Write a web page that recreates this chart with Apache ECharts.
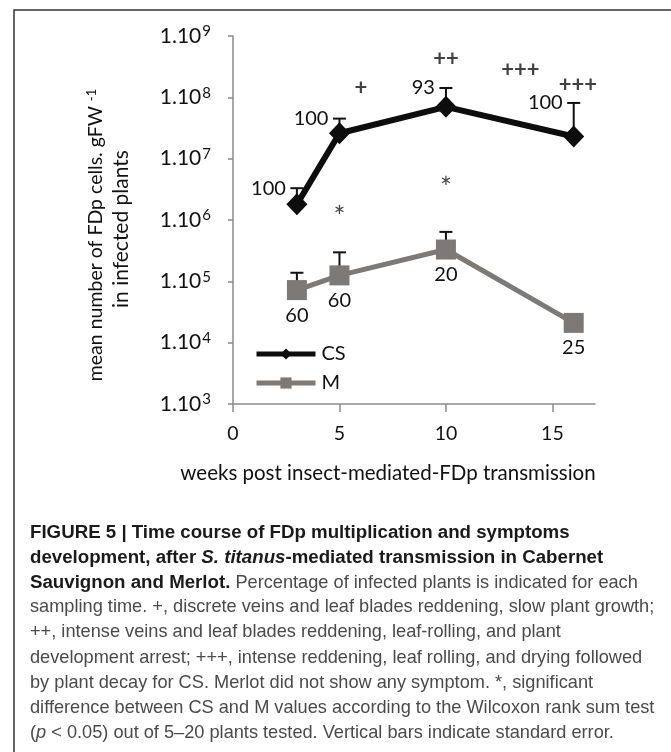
<!DOCTYPE html>
<html>
<head>
<meta charset="utf-8">
<script src="https://cdn.jsdelivr.net/npm/echarts@6/dist/echarts.min.js"></script>
<style>
  html, body { margin: 0; padding: 0; background: #ffffff; }
  #chart { width: 671px; height: 752px; }
</style>
</head>
<body>
<div id="chart"></div>
<script>
// Sampling times (weeks after transmission)
const weeks = [3, 5, 10, 16];

// Cabernet Sauvignon (CS): mean FDp cells per g fresh weight and upper end of SE bar
const csMean = [1.8e6, 2.6e7, 7.0e7, 2.3e7];
const csUpper = [3.3e6, 4.5e7, 1.42e8, 8.1e7];
const csInfected = ['100', '100', '93', '100'];

// Merlot (M)
const mMean = [7.2e4, 1.25e5, 3.3e5, 2.1e4];
const mUpper = [1.38e5, 2.97e5, 6.4e5, null];
const mInfected = ['60', '60', '20', '25'];

// Symptom scores for CS and significance stars (week, level, mark)
const symptomWeeks = [6, 10, 13.5, 16.2];
const symptomLevels = [1.4e8, 4.2e8, 2.8e8, 1.6e8];
const symptomMarks = ['+', '++', '+++', '+++'];
const starWeeks = [5, 10];
const starLevels = [1.08e6, 3.2e6];

// Axis ticks
const xTicks = [0, 5, 10, 15];
const yMin = 1e3, yMax = 1e9;

// Caption lines
const captionLines = [
  '{b|FIGURE 5 | Time course of FDp multiplication and symptoms}',
  '{b|development, after }{bi|S. titanus}{b|-mediated transmission in Cabernet}',
  '{b|Sauvignon and Merlot.}{r| Percentage of infected plants is indicated for each}',
  '{r|sampling time. +, discrete veins and leaf blades reddening, slow plant growth;}',
  '{r|++, intense veins and leaf blades reddening, leaf-rolling, and plant}',
  '{r|development arrest; +++, intense reddening, leaf rolling, and drying followed}',
  '{r|by plant decay for CS. Merlot did not show any symptom. *, significant}',
  '{r|difference between CS and M values according to the Wilcoxon rank sum test}',
  '{r|(}{ri|p}{r| < 0.05) out of 5–20 plants tested. Vertical bars indicate standard error.}'
];

const FONT = 'Lato, "Open Sans", sans-serif';
const CAP_FONT = '"Liberation Sans Narrow", "Liberation Sans", Arial, sans-serif';

function errData(means, uppers) {
  return weeks.map((w, i) => [w, means[i], uppers[i]]);
}

function errorBarRenderer(color, labels) {
  return function (params, api) {
    const upper = api.value(2);
    if (upper == null || isNaN(upper)) return null;
    const base = api.coord([api.value(0), api.value(1)]);
    const top = api.coord([api.value(0), upper]);
    const children = [
      { type: 'line', shape: { x1: base[0], y1: base[1], x2: top[0], y2: top[1] },
        style: { stroke: color, lineWidth: 2 } },
      { type: 'line', shape: { x1: top[0] - 6.5, y1: top[1], x2: top[0] + 6.5, y2: top[1] },
        style: { stroke: color, lineWidth: 2 } }
    ];
    if (labels) {
      children.push({
        type: 'text', x: top[0] - 11, y: top[1],
        style: { text: labels[params.dataIndex], fill: '#111', font: '20px ' + FONT,
                 textAlign: 'right', textVerticalAlign: 'middle' }
      });
    }
    return { type: 'group', children };
  };
}

const chart = echarts.init(document.getElementById('chart'), null, { renderer: 'canvas' });

const captionGraphics = captionLines.map((line, i) => ({
  type: 'text', left: 30, top: 523 + i * 25.1, z: 10,
  style: {
    text: line,
    font: '18px ' + CAP_FONT,
    rich: {
      b: { fontFamily: CAP_FONT, fontSize: 18.7, fontWeight: 'bold', fill: '#1a1a1a' },
      bi: { fontFamily: CAP_FONT, fontSize: 18.7, fontWeight: 'bold', fontStyle: 'italic', fill: '#1a1a1a' },
      r: { fontFamily: CAP_FONT, fontSize: 18.2, fill: '#4a4a4a' },
      ri: { fontFamily: CAP_FONT, fontSize: 18.2, fontStyle: 'italic', fill: '#4a4a4a' }
    }
  }
}));

const option = {
  animation: false,
  backgroundColor: '#ffffff',
  grid: { left: 233, top: 36, width: 362, height: 368, containLabel: false },
  xAxis: {
    type: 'value', min: 0, max: 17, interval: 5,
    axisLine: { lineStyle: { color: '#8a8a8a', width: 1.5 } },
    axisTick: { show: true, length: 8, lineStyle: { color: '#8a8a8a', width: 1.5 }, customValues: xTicks },
    axisLabel: { color: '#111', fontSize: 19.5, fontFamily: FONT, margin: 20, customValues: xTicks },
    splitLine: { show: false }
  },
  yAxis: {
    type: 'log', logBase: 10, min: yMin, max: yMax,
    axisLine: { show: true, lineStyle: { color: '#8a8a8a', width: 1.5 } },
    axisTick: { show: true, length: 5, lineStyle: { color: '#8a8a8a', width: 1.5 } },
    axisLabel: {
      margin: 22, color: '#111', fontSize: 21, fontFamily: FONT,
      formatter: v => '{n|1.10}{s|' + Math.round(Math.log10(v)) + '}',
      rich: {
        n: { fontSize: 21, fontFamily: FONT, color: '#111' },
        s: { fontSize: 15, fontFamily: FONT, color: '#111', verticalAlign: 'top', padding: [0, 0, 9, 1] }
      }
    },
    splitLine: { show: false }
  },
  legend: {
    orient: 'vertical', left: 249, top: 339, itemGap: 9,
    itemWidth: 59, itemHeight: 14,
    textStyle: { fontSize: 20, fontFamily: FONT, color: '#111', padding: [0, 0, 0, 1] },
    data: [
      { name: 'CS', lineStyle: { width: 5 } },
      { name: 'M', lineStyle: { width: 5 } }
    ]
  },
  graphic: [
    { type: 'rect', shape: { x: 14, y: 10, width: 700, height: 800 },
      style: { fill: 'none', stroke: '#333', lineWidth: 1.5 }, z: -1 },
    { type: 'text', x: 96, y: 235, rotation: Math.PI / 2,
      style: { text: '{a|mean number of FDp cells. gFW }{s|-1}', textAlign: 'center', textVerticalAlign: 'middle',
        rich: { a: { fontSize: 19.5, fontFamily: FONT, fill: '#111' },
                s: { fontSize: 13, fontFamily: FONT, fill: '#111', verticalAlign: 'top', padding: [0, 0, 8, 0] } } } },
    { type: 'text', x: 121, y: 229, rotation: Math.PI / 2,
      style: { text: 'in infected plants', font: '21px ' + FONT, fill: '#111',
        textAlign: 'center', textVerticalAlign: 'middle' } },
    { type: 'text', x: 388, y: 473,
      style: { text: 'weeks post insect-mediated-FDp transmission', font: '20.5px ' + FONT, fill: '#111',
        textAlign: 'center', textVerticalAlign: 'middle' } },
    ...captionGraphics
  ],
  series: [
    {
      name: 'CS errors', type: 'custom', z: 1,
      renderItem: errorBarRenderer('#111', csInfected),
      data: errData(csMean, csUpper), encode: { x: 0, y: 1 }
    },
    {
      name: 'M errors', type: 'custom', z: 1,
      renderItem: errorBarRenderer('#111', null),
      data: errData(mMean, mUpper), encode: { x: 0, y: 1 }
    },
    {
      name: 'CS', type: 'line', z: 3,
      data: weeks.map((w, i) => [w, csMean[i]]),
      symbol: 'diamond', symbolSize: [21, 22],
      lineStyle: { color: '#0d0d0d', width: 6 },
      itemStyle: { color: '#0d0d0d' }
    },
    {
      name: 'M', type: 'line', z: 2,
      data: weeks.map((w, i) => [w, mMean[i]]),
      symbol: 'rect', symbolSize: 20,
      lineStyle: { color: '#7d7977', width: 5 },
      itemStyle: { color: '#7d7977' },
      label: {
        show: true, position: 'bottom', distance: 5,
        color: '#111', fontSize: 20, fontFamily: FONT,
        formatter: p => mInfected[p.dataIndex]
      }
    },
    {
      name: 'symptoms', type: 'scatter', symbolSize: 0, z: 4,
      data: symptomWeeks.map((w, i) => [w, symptomLevels[i]]),
      label: { show: true, position: 'inside', color: '#111', fontSize: 22, fontWeight: 'bold', fontFamily: FONT,
               formatter: p => symptomMarks[p.dataIndex] },
      silent: true
    },
    {
      name: 'stars', type: 'scatter', symbolSize: 0, z: 4,
      data: starWeeks.map((w, i) => [w, starLevels[i]]),
      label: { show: true, position: 'inside', color: '#111', fontSize: 28, fontFamily: FONT,
               formatter: '*' },
      silent: true
    }
  ]
};

chart.setOption(option);
</script>
</body>
</html>
